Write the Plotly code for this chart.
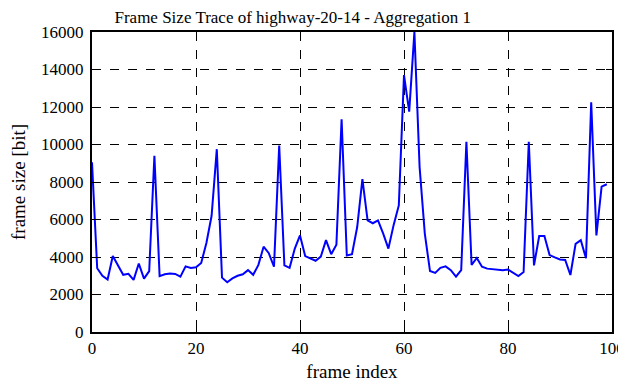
import plotly.graph_objects as go

frame_index = list(range(100))
frame_size = [
    9050, 3400, 3000, 2800, 4050, 3550, 3050, 3100, 2780, 3650,
    2850, 3250, 9400, 2980, 3080, 3120, 3100, 2950, 3500, 3420,
    3450, 3680, 4750, 6200, 9750, 2900, 2650, 2860, 3000, 3080,
    3300, 3050, 3580, 4550, 4200, 3480, 9950, 3550, 3420, 4450,
    5150, 4050, 3920, 3800, 4020, 4900, 4150, 4650, 11350, 4080,
    4150, 5600, 8150, 5950, 5800, 5950, 5250, 4450, 5700, 6750,
    13700, 11750, 16000, 8800, 5250, 3250, 3150, 3420, 3500, 3300,
    2950, 3300, 10150, 3580, 3950, 3480, 3380, 3340, 3300, 3300,
    3330, 3160, 2980, 3200, 10150, 3550, 5120, 5120, 4100, 3980,
    3870, 3840, 3040, 4700, 4900, 3930, 12250, 5150, 7750, 7880,
]

x_ticks = [0, 20, 40, 60, 80, 100]
y_ticks = [0, 2000, 4000, 6000, 8000, 10000, 12000, 14000, 16000]

font = "Liberation Serif"

fig = go.Figure()
fig.add_trace(go.Scatter(
    x=frame_index, y=frame_size, mode="lines",
    line=dict(color="#0000FF", width=2),
    showlegend=False,
))

axis_common = dict(
    showline=True, linecolor="black", linewidth=2, mirror="allticks",
    ticks="inside", ticklen=6, tickcolor="black", tickwidth=1,
    showgrid=True, gridcolor="black", gridwidth=1, griddash="dash",
    zeroline=False, automargin=False,
    tickfont=dict(family=font, size=17, color="black"),
)

fig.update_layout(
    template="none",
    width=618, height=374,
    margin=dict(l=84, r=14, t=24, b=50),
    paper_bgcolor="white", plot_bgcolor="white",
    title=dict(text="Frame Size Trace of highway-20-14 - Aggregation 1",
               x=0.386, xanchor="center", xref="paper",
               y=0.975, yanchor="middle", yref="container",
               font=dict(family=font, size=17, color="black")),
    xaxis=dict(range=[0, 100], tickvals=x_ticks, tickformat="d",
               title=dict(text="frame index", font=dict(family=font, size=19, color="black"), standoff=12),
               **axis_common),
    yaxis=dict(range=[0, 16000], tickvals=y_ticks, tickformat="d", ticklabelstandoff=3,
               title=dict(text="frame size [bit]", font=dict(family=font, size=19, color="black"), standoff=22),
               **axis_common),
)

fig.write_html("out.html")
